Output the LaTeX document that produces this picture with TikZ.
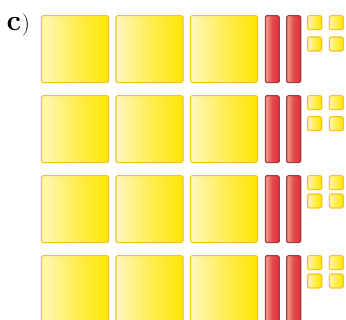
\documentclass[tikz,border=0pt]{standalone}
\usetikzlibrary{shadings}
\definecolor{ylight}{HTML}{FFF7BE}
\definecolor{ydark}{HTML}{FFE600}
\definecolor{yborder}{HTML}{F8C21E}
\definecolor{rlight}{HTML}{F3A08C}
\definecolor{rdark}{HTML}{E0323A}
\definecolor{rborder}{HTML}{A03848}
\tikzset{
  blk/.style={draw, anchor=north west, inner sep=0pt, outer sep=0pt, rounded corners=1.5pt, line width=1.1pt},
  bigsq/.style={blk, draw=yborder, left color=ylight, right color=ydark, middle color=ydark!55!ylight, minimum width=67pt, minimum height=67pt},
  rodbar/.style={blk, draw=rborder, left color=rlight, right color=rdark, middle color=rdark!80!rlight, minimum width=14pt, minimum height=67pt},
  unitsq/.style={blk, draw=yborder, left color=ylight, right color=ydark, middle color=ydark!60!ylight, minimum width=14pt, minimum height=14pt},
}
\begin{document}
\begin{tikzpicture}[x=1pt,y=-1pt]
\useasboundingbox (0,0) rectangle (346,320);
\node[anchor=base west, inner sep=0pt] (lbl) at (6.5,31) {\fontsize{29}{29}\selectfont\bfseries c\hspace{1pt}\fontsize{22}{22}\selectfont\mdseries)};
\foreach \r/\top/\off in {1/15.7/21.3, 2/95.7/21, 3/175.7/18.3, 4/255.7/18.3} {
  \node[bigsq] (sqa\r) at (41.5,\top) {};
  \node[bigsq] (sqb\r) at (116,\top) {};
  \node[bigsq] (sqc\r) at (190.5,\top) {};
  \node[rodbar] (rda\r) at (265.3,\top) {};
  \node[rodbar] (rdb\r) at (286.7,\top) {};
  \node[unitsq] (uaa\r) at (307.7,\top) {};
  \node[unitsq] (uab\r) at (329.3,\top) {};
  \node[unitsq] (uba\r) at (307.7,\top+\off) {};
  \node[unitsq] (ubb\r) at (329.3,\top+\off) {};
}
\end{tikzpicture}
\end{document}
